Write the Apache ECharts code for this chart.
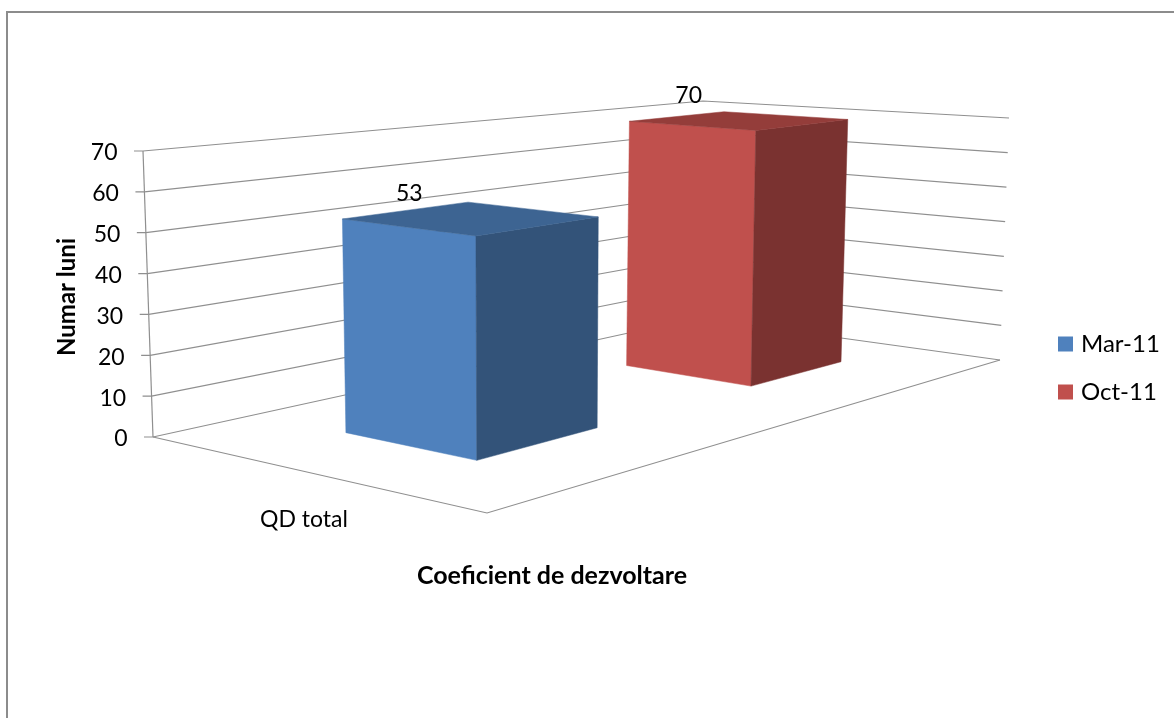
<!DOCTYPE html>
<html>
<head>
<meta charset="utf-8">
<style>
  html, body { margin: 0; padding: 0; background: #fff; overflow: hidden; }
  #chart { width: 1174px; height: 718px; }
</style>
<script src="https://cdn.jsdelivr.net/npm/echarts@6/dist/echarts.min.js"></script>
</head>
<body>
<div id="chart"></div>
<script>
var categories = ['QD total']
var seriesNames = ['Mar-11', 'Oct-11']
var mar11 = [53]
var oct11 = [70]
var yTicks = [0, 10, 20, 30, 40, 50, 60, 70]

var FONT = 'Lato, Carlito, "Open Sans", sans-serif'
var GRID_COLOR = '#8f8f8f'

// box of the 3d scene: floor and ceiling corners as A front-left, B front, C right, D back
var floor = { a: [153, 437], b: [487, 513], c: [1000, 360], d: [697, 318] }
var ceil = { a: [143, 151], b: [487, 189], c: [1009, 118], d: [703, 101] }

// footprint of the bars on the floor, u along A-B and v along B-C
var barU = [0.268, 0.667]
var barV = [[0.193, 0.423], [0.717, 0.889]]
var barColors = [
  { front: '#4f81bd', side: '#335379', top: '#3d6492' },
  { front: '#c0504d', side: '#7a3230', top: '#943d3a' }
]
var labelShift = [[4, -17], [12, -21]]

function onPlane(p, u, v, i) {
  return (1 - u) * (1 - v) * p.a[i] + u * (1 - v) * p.b[i] + u * v * p.c[i] + (1 - u) * v * p.d[i]
}

// t is the height in the box, 0 floor and 1 ceiling
function project(u, v, t) {
  return [
    onPlane(floor, u, v, 0) * (1 - t) + onPlane(ceil, u, v, 0) * t,
    onPlane(floor, u, v, 1) * (1 - t) + onPlane(ceil, u, v, 1) * t
  ]
}

function heightOf(params, api, val) {
  var cs = params.coordSys
  return (cs.y + cs.height - api.coord([0, val])[1]) / cs.height
}

function lineEl(points, width) {
  return {
    type: 'polyline',
    silent: true,
    shape: { points: points },
    style: { fill: null, stroke: GRID_COLOR, lineWidth: width || 1.2 }
  }
}

function renderWall(params, api) {
  var val = api.value(1)
  var t = heightOf(params, api, val)
  var left = project(0, 0, t)
  var children = [
    lineEl([[left[0] - 9, left[1]], left, project(0, 1, t), project(1, 1, t)]),
    {
      type: 'text',
      silent: true,
      style: {
        x: left[0] - 25.5,
        y: left[1] + 2,
        text: String(val),
        fill: '#000',
        font: '23px ' + FONT,
        textAlign: 'right',
        textVerticalAlign: 'middle'
      }
    }
  ]
  if (val === 0) {
    children.push(lineEl([left, project(1, 0, 0), project(1, 1, 0)]))
    children.push(lineEl([left, project(0, 0, 1)]))
  }
  return { type: 'group', children: children }
}

function barRenderer(idx) {
  return function(params, api) {
    var t = heightOf(params, api, api.value(1))
    var u0 = barU[0]
    var u1 = barU[1]
    var v0 = barV[idx][0]
    var v1 = barV[idx][1]
    var col = barColors[idx]
    var face = function(points, fill) {
      return { type: 'polygon', shape: { points: points }, style: { fill: fill, stroke: fill, lineWidth: 0.5 } }
    }
    var topLeft = project(u0, v0, t)
    var topBack = project(u0, v1, t)
    return {
      type: 'group',
      children: [
        face([project(u0, v0, 0), project(u1, v0, 0), project(u1, v0, t), topLeft], col.front),
        face([project(u1, v0, 0), project(u1, v1, 0), project(u1, v1, t), project(u1, v0, t)], col.side),
        face([topLeft, project(u1, v0, t), project(u1, v1, t), topBack], col.top),
        {
          type: 'text',
          z2: 10,
          style: {
            x: (topLeft[0] + topBack[0]) / 2 + labelShift[idx][0],
            y: (topLeft[1] + topBack[1]) / 2 + labelShift[idx][1],
            text: String(api.value(1)),
            fill: '#000',
            font: '23px ' + FONT,
            textAlign: 'center',
            textVerticalAlign: 'middle'
          }
        }
      ]
    }
  }
}

var chart = echarts.init(document.getElementById('chart'))
chart.setOption({
  animation: false,
  backgroundColor: '#fff',
  textStyle: { fontFamily: FONT },
  graphic: [{
    type: 'rect',
    silent: true,
    shape: { x: 7, y: 12, width: 1400, height: 1000 },
    style: { fill: null, stroke: '#8c8c8c', lineWidth: 2 }
  }],
  grid: { left: 153, top: 151, width: 302, height: 286 },
  legend: {
    data: seriesNames,
    orient: 'vertical',
    left: 1053,
    top: 327,
    icon: 'rect',
    itemWidth: 15,
    itemHeight: 15,
    itemGap: 24,
    textStyle: { fontSize: 24, color: '#000', fontFamily: FONT, padding: [0, 0, 0, 3] }
  },
  xAxis: {
    type: 'category',
    data: categories,
    axisLine: { show: false },
    axisTick: { show: false },
    axisLabel: { margin: 71, fontSize: 23, color: '#000' },
    name: 'Coeficient de dezvoltare',
    nameLocation: 'middle',
    nameGap: 126,
    nameTextStyle: { fontSize: 25, fontWeight: 'bold', color: '#000', padding: [0, 0, 0, 496] }
  },
  yAxis: {
    type: 'value',
    min: 0,
    max: 70,
    interval: 10,
    splitLine: { show: false },
    axisLine: { show: false },
    axisTick: { show: false },
    axisLabel: { show: false },
    name: 'Numar luni',
    nameLocation: 'middle',
    nameGap: 74,
    nameTextStyle: { fontSize: 24, fontWeight: 'bold', color: '#000', padding: [0, 6, 0, 0] }
  },
  series: [
    {
      type: 'custom',
      silent: true,
      z: 1,
      renderItem: renderWall,
      encode: { x: 0, y: 1 },
      data: yTicks.map(function(v) { return [0, v] })
    },
    {
      type: 'custom',
      name: seriesNames[0],
      z: 2,
      itemStyle: { color: barColors[0].front },
      renderItem: barRenderer(0),
      encode: { x: 0, y: 1 },
      data: mar11.map(function(v, i) { return [i, v] })
    },
    {
      type: 'custom',
      name: seriesNames[1],
      z: 2,
      itemStyle: { color: barColors[1].front },
      renderItem: barRenderer(1),
      encode: { x: 0, y: 1 },
      data: oct11.map(function(v, i) { return [i, v] })
    }
  ]
})
</script>
</body>
</html>
